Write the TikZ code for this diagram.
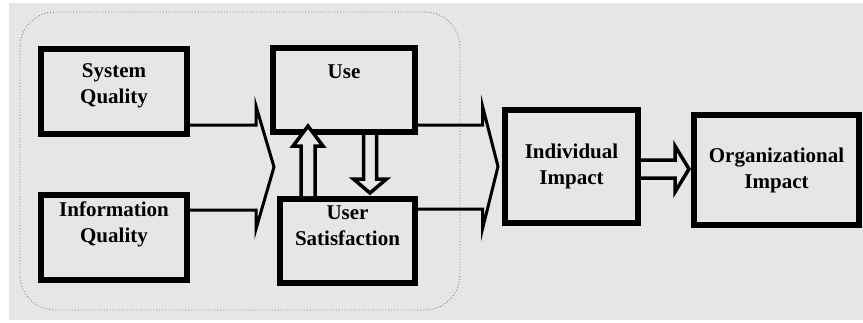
\documentclass[tikz,border=0pt]{standalone}
\usepackage{fontspec}
\setmainfont{Liberation Serif}
\usepackage{tikz}
\usetikzlibrary{calc,positioning}
\definecolor{panelgray}{HTML}{E6E6E6}
\definecolor{groupline}{HTML}{808080}
\newcommand{\hollowarrow}[5]{%
  \coordinate (ha-h) at ($(#2)!#5!(#1)$);
  \path[hollow] ($(#1)!#3!90:(#2)$) -- ($(ha-h)!#3!90:(#2)$) -- ($(ha-h)!#4!90:(#2)$) -- (#2)
    -- ($(ha-h)!#4!-90:(#2)$) -- ($(ha-h)!#3!-90:(#2)$) -- ($(#1)!#3!-90:(#2)$);
}

\begin{document}
\begin{tikzpicture}[x=1pt, y=-1pt,
  box/.style={draw, line width=6pt, inner sep=0pt, align=center,
              font=\fontsize{21}{26}\selectfont\bfseries},
  lbl/.style={inner sep=0pt, align=center, font=\fontsize{21}{26}\selectfont\bfseries},
  group/.style={draw=groupline, dotted, line width=0.9pt, rounded corners=35pt},
  chev/.style={line width=3pt, line join=miter, miter limit=25},
  hollow/.style={fill=panelgray, draw=black, line width=3.5pt, line join=miter},
]
  \useasboundingbox (0,0) rectangle (863,322);
  \fill[panelgray] (9,3) rectangle (863,320);
  \node[group, minimum width=440, minimum height=298] (core) at (240,161) {};

  \node[box, minimum width=146, minimum height=85] (sq) at (114,91.5) {};
  \node[box, minimum width=146, minimum height=85, below=55pt of sq] (iq) {};
  \node[box, minimum width=142, minimum height=84] (use) at (344,90) {};
  \node[box, minimum width=135, minimum height=84] (us) at (347.5,241) {};
  \node[box, minimum width=133, minimum height=113] (ii) at (571.5,166.5) {Individual\\Impact};
  \node[box, minimum width=165, minimum height=110] (oi) at (776.5,170) {Organizational\\Impact};

  \node[lbl] (sqtext) at ([yshift=5.5pt]sq.center) {System\\Quality};
  \node[lbl] (iqtext) at ([yshift=13pt]iq.center) {Information\\Quality};
  \node[lbl] (usetext) at ([yshift=18pt]use.center) {Use};
  \node[lbl] (ustext) at ([yshift=15pt]us.center) {User\\Satisfaction};

  \coordinate (merge) at (274,167);
  \draw[chev] ([yshift=-33.5pt]sq.east) -| (256,106) -- (merge) -- (256,229) |- ([yshift=27.5pt]iq.east);
  \draw[chev] ([yshift=-35pt]use.east) -| (482.5,106) -- ([xshift=-4pt]ii.west) -- (482.5,229) |- ([yshift=32pt]us.east);

  \coordinate (upfrom) at ([xshift=-39.5pt]us.north);
  \coordinate (upto) at ($(upfrom |- use.south)+(0,-9)$);
  \hollowarrow{upfrom}{upto}{7pt}{15pt}{20pt}
  \coordinate (downfrom) at ([xshift=26pt]use.south);
  \coordinate (downto) at ($(downfrom |- us.north)+(0,-3)$);
  \hollowarrow{downfrom}{downto}{6.5pt}{16.5pt}{14pt}
  \coordinate (rfrom) at ([yshift=-2.5pt]ii.east);
  \coordinate (rto) at ($(rfrom -| oi.west)+(-2,0)$);
  \hollowarrow{rfrom}{rto}{9pt}{23pt}{14pt}
\end{tikzpicture}
\end{document}
